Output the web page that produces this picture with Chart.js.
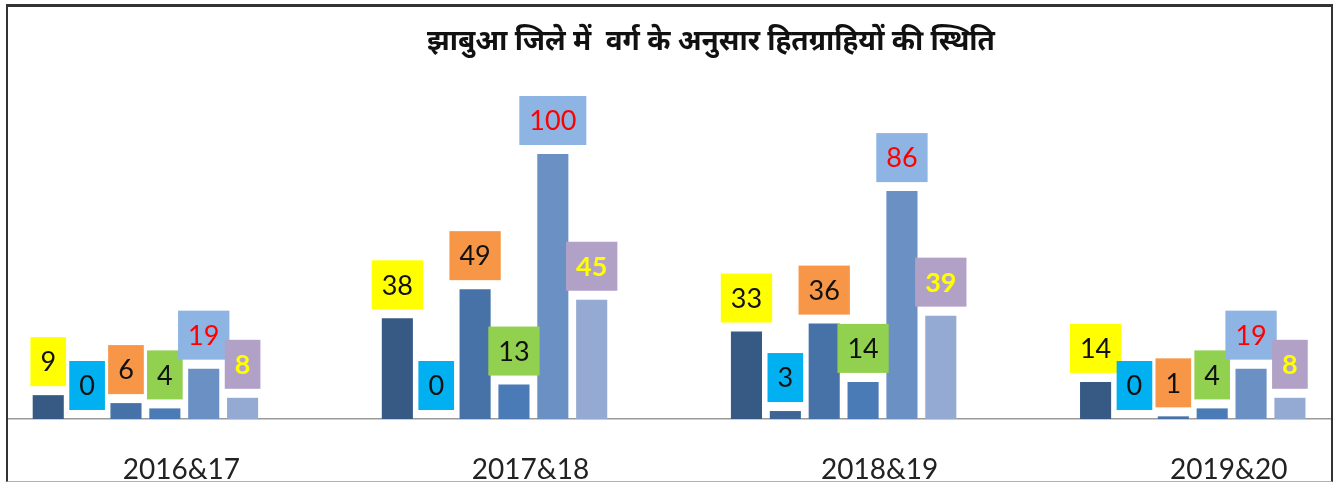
<!DOCTYPE html>
<html>
<head>
<meta charset="utf-8">
<script src="https://cdn.jsdelivr.net/npm/chart.js@4.4.1/dist/chart.umd.min.js"></script>
<style>
  html, body { margin: 0; padding: 0; background: #fff; }
  #wrap { position: relative; width: 1336px; height: 482px; }
  #frame {
    position: absolute; left: 6px; top: 4px; width: 1323px; height: 474px;
    border-top: 3px solid #333; border-left: 2px solid #333; border-right: 2px solid #333;
    border-bottom: 1px solid #b0b0b0; pointer-events: none;
  }
</style>
</head>
<body>
<div id="wrap">
  <canvas id="grafico" width="1336" height="482"></canvas>
  <div id="frame"></div>
</div>
<script>
const titulo = 'झाबुआ जिले में  वर्ग के अनुसार हितग्राहियों की स्थिति';
const anos = ['2016&17', '2017&18', '2018&19', '2019&20'];

const serie1 = [9, 38, 33, 14];
const serie2 = [0, 0, 3, 0];
const serie3 = [6, 49, 36, 1];
const serie4 = [4, 13, 14, 4];
const serie5 = [19, 100, 86, 19];
const serie6 = [8, 45, 39, 8];

const coloresBarra = ['#375a85', '#3f6597', '#4672a8', '#4a7bb7', '#6b90c4', '#94aad2'];
const coloresCaja = ['#ffff00', '#00b0f0', '#f79646', '#92d050', '#8db4e2', '#b2a1c7'];
const coloresTexto = ['#111111', '#111111', '#111111', '#111111', '#ff0000', '#ffff00'];

const series = [serie1, serie2, serie3, serie4, serie5, serie6];

// etiquetas con caja de color encima de cada barra
const cajas = {
  id: 'cajas',
  afterDatasetsDraw(chart) {
    const ctx = chart.ctx;
    ctx.save();
    chart.data.datasets.forEach((ds, i) => {
      const meta = chart.getDatasetMeta(i);
      ctx.font = (i === 5 ? 'bold ' : '') + '27px Lato';
      meta.data.forEach((bar, j) => {
        const txt = String(ds.data[j].y);
        const w = ctx.measureText(txt).width + 20;
        const h = 49;
        const bottom = bar.y - 9;
        ctx.fillStyle = coloresCaja[i];
        ctx.fillRect(bar.x - w / 2, bottom - h, w, h);
        ctx.fillStyle = coloresTexto[i];
        ctx.textAlign = 'center';
        ctx.textBaseline = 'middle';
        ctx.fillText(txt, bar.x, bottom - h / 2 + 1);
      });
    });
    ctx.restore();
  }
};

const tituloPlugin = {
  id: 'tituloPlugin',
  beforeDraw(chart) {
    const ctx = chart.ctx;
    ctx.save();
    ctx.font = 'bold 28px "Noto Sans", sans-serif';
    ctx.fillStyle = '#111';
    ctx.textAlign = 'center';
    ctx.textBaseline = 'middle';
    ctx.fillText(titulo, 711, 42);
    ctx.restore();
  }
};

new Chart(document.getElementById('grafico'), {
  type: 'bar',
  data: {
    datasets: series.map((s, i) => ({
      label: 'Serie ' + (i + 1),
      data: s.map((v, k) => ({ x: k, y: v })),
      backgroundColor: coloresBarra[i],
      borderWidth: 0,
      categoryPercentage: 0.668,
      barPercentage: 0.8
    }))
  },
  options: {
    responsive: false,
    animation: false,
    layout: { padding: { top: 101, left: 8, right: 5, bottom: 0 } },
    plugins: {
      legend: { display: false },
      tooltip: { enabled: false }
    },
    scales: {
      x: {
        type: 'linear',
        offset: false,
        bounds: 'data',
        min: -0.3936,
        max: 3.396,
        afterBuildTicks: (scale) => { scale.ticks = anos.map((a, i) => ({ value: i })); },
        afterFit: (scale) => { scale.height = 63; },
        grid: { display: false, drawTicks: false },
        border: { display: true, color: '#9a9a9a', width: 1.5 },
        ticks: {
          callback: (v) => anos[v],
          labelOffset: 36,
          padding: 34,
          maxRotation: 0,
          autoSkip: false,
          color: '#222',
          font: { family: 'Lato', size: 28 }
        }
      },
      y: {
        display: false,
        min: 0,
        max: 120
      }
    }
  },
  plugins: [cajas, tituloPlugin]
});
</script>
</body>
</html>
